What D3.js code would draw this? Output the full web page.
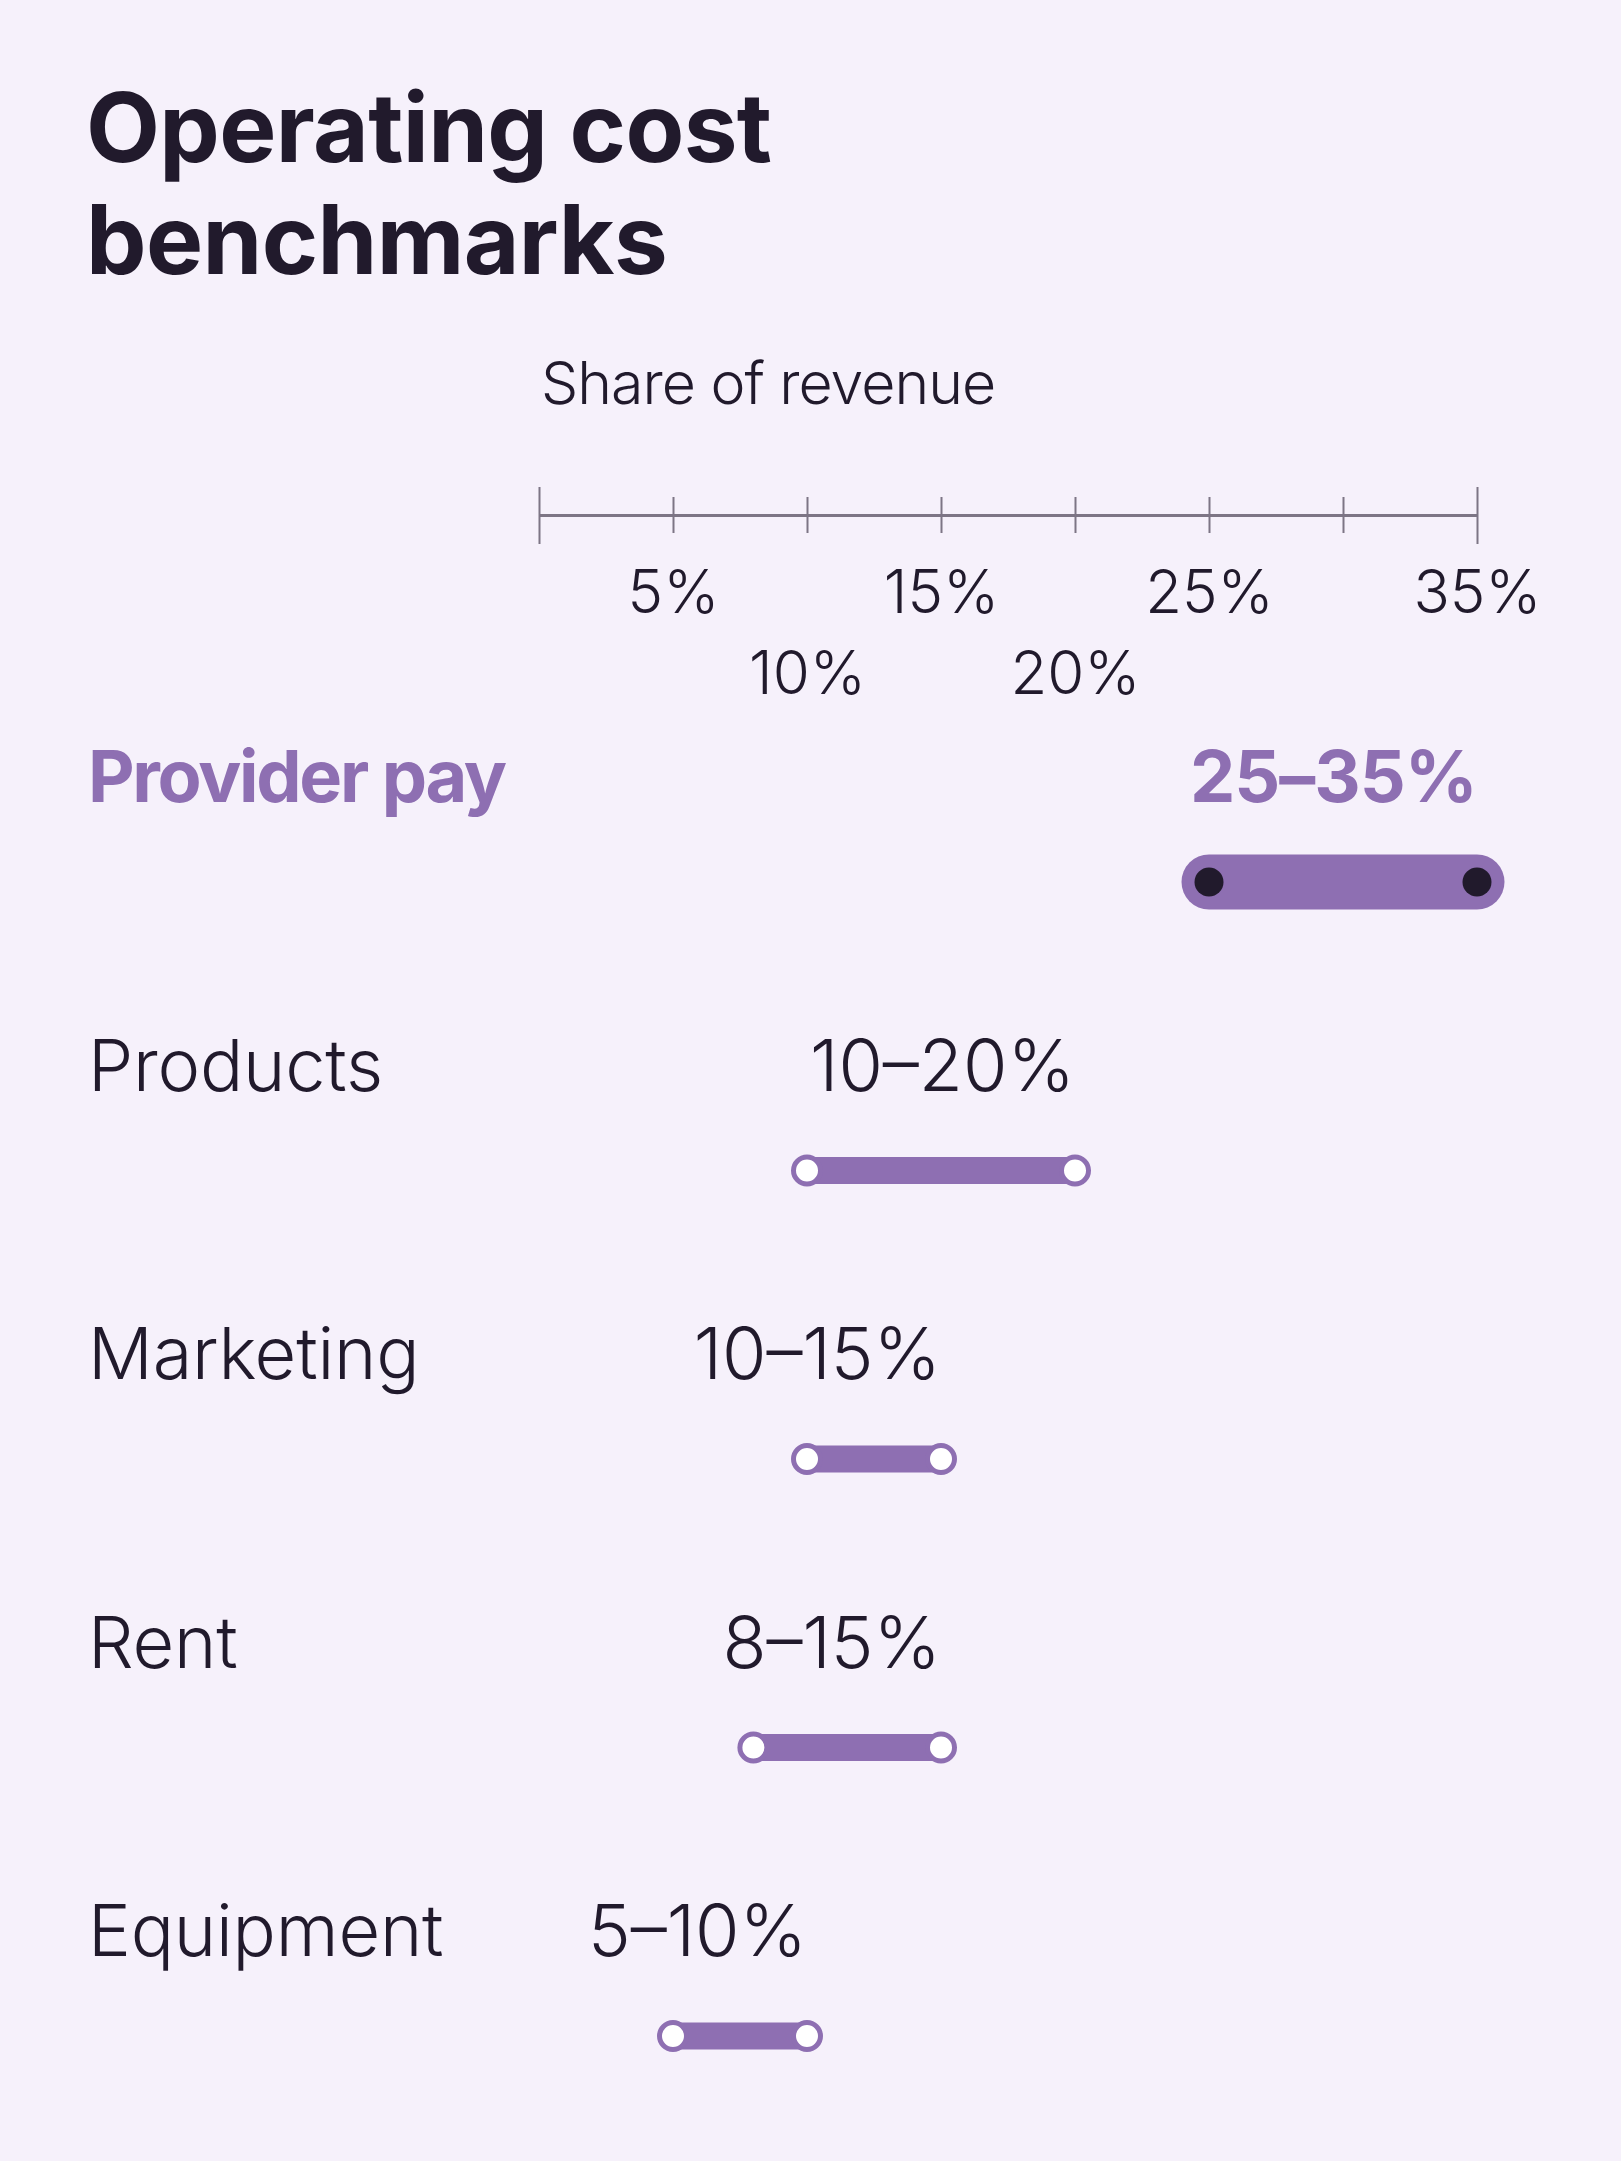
<!DOCTYPE html>
<html>
<head>
<meta charset="utf-8">
<script src="https://cdn.jsdelivr.net/npm/d3@7"></script>
<style>
  html, body { margin: 0; padding: 0; background: #f6f1fb; }
  svg { display: block; font-family: Inter, "Noto Sans", sans-serif; }
</style>
</head>
<body>
<svg id="chart" width="1621" height="2161"></svg>
<script>
var titleLines = ["Operating cost", "benchmarks"]
var axisTitle = "Share of revenue"

var categories = ["Provider pay", "Products", "Marketing", "Rent", "Equipment"]
var lowValues = [25, 10, 10, 8, 5]
var highValues = [35, 20, 15, 15, 10]
var highlighted = ["Provider pay"]

var tickValues = [0, 5, 10, 15, 20, 25, 30, 35]
var tickLabelled = [5, 10, 15, 20, 25, 35]

var bg = "#f6f1fb"
var purple = "#8e6fb2"
var dark = "#211a2c"
var axisGrey = "#7d7585"

var svg = d3.select("#chart")
svg.append("rect").attr("width", 1621).attr("height", 2161).attr("fill", bg)

// title
svg.append("g").selectAll("text")
  .data(titleLines)
  .enter().append("text")
  .attr("x", 86)
  .attr("y", function (d, i) { return 162 + i * 112 })
  .attr("font-size", 96)
  .attr("font-weight", 700)
  .attr("letter-spacing", -0.6)
  .attr("fill", dark)
  .text(function (d) { return d })

var x = d3.scaleLinear().domain([0, 35]).range([539, 1477])

var rows = d3.scalePoint()
  .domain(categories)
  .range([802, 802 + 4 * 288.5])

// axis title
svg.append("text")
  .attr("x", x(0) + 2)
  .attr("y", 404)
  .attr("font-size", 59)
  .attr("font-weight", 300)
  .attr("letter-spacing", -1)
  .attr("fill", dark)
  .text(axisTitle)

// axis
var axisY = 515
var xAxis = d3.axisBottom(x)
  .tickValues(tickValues)
  .tickSizeOuter(0)
  .tickFormat(function (d) { return tickLabelled.indexOf(d) >= 0 ? d + "%" : "" })

var ax = svg.append("g")
  .attr("transform", "translate(0," + axisY + ")")
  .call(xAxis)

ax.select(".domain").attr("stroke", axisGrey).attr("stroke-width", 3)
ax.selectAll(".tick line")
  .attr("stroke", axisGrey)
  .attr("stroke-width", 2)
  .attr("y1", function (d) { return (d == 0 || d == 35) ? -28 : -18 })
  .attr("y2", function (d) { return (d == 0 || d == 35) ? 29 : 18 })
ax.selectAll(".tick text")
  .attr("dy", 0)
  .attr("y", function (d) { return (d / 5) % 2 == 1 ? 98 : 179 })
  .attr("font-family", "Inter, 'Noto Sans', sans-serif")
  .attr("font-size", 60)
  .attr("font-weight", 300)
  .attr("fill", dark)

// rows
var row = svg.append("g").selectAll("g")
  .data(categories)
  .enter().append("g")
  .attr("transform", function (d) { return "translate(0," + rows(d) + ")" })

function isHi(d) { return highlighted.indexOf(d) >= 0 }

row.append("text")
  .attr("x", 88)
  .attr("font-size", 72)
  .attr("font-weight", function (d) { return isHi(d) ? 700 : 300 })
  .attr("letter-spacing", function (d) { return isHi(d) ? -2.3 : -0.2 })
  .attr("fill", function (d) { return isHi(d) ? purple : dark })
  .text(function (d) { return d })

row.append("text")
  .attr("x", function (d, i) { return x(highValues[i]) })
  .attr("text-anchor", "end")
  .attr("font-size", 72)
  .attr("font-weight", function (d) { return isHi(d) ? 700 : 300 })
  .attr("letter-spacing", function (d) { return isHi(d) ? -1 : 0 })
  .attr("fill", function (d) { return isHi(d) ? purple : dark })
  .text(function (d, i) { return lowValues[i] + "–" + highValues[i] + "%" })

row.append("line")
  .attr("x1", function (d, i) { return x(lowValues[i]) })
  .attr("x2", function (d, i) { return x(highValues[i]) })
  .attr("y1", 80)
  .attr("y2", 80)
  .attr("stroke", purple)
  .attr("stroke-width", function (d) { return isHi(d) ? 55 : 27 })
  .attr("stroke-linecap", "round")

row.each(function (d, i) {
  var g = d3.select(this)
  g.selectAll("circle")
    .data([lowValues[i], highValues[i]])
    .enter().append("circle")
    .attr("cx", function (v) { return x(v) })
    .attr("cy", 80)
    .attr("r", isHi(d) ? 14.5 : 13.5)
    .attr("fill", isHi(d) ? dark : "#ffffff")
    .attr("stroke", isHi(d) ? "none" : purple)
    .attr("stroke-width", 5)
})
</script>
</body>
</html>
